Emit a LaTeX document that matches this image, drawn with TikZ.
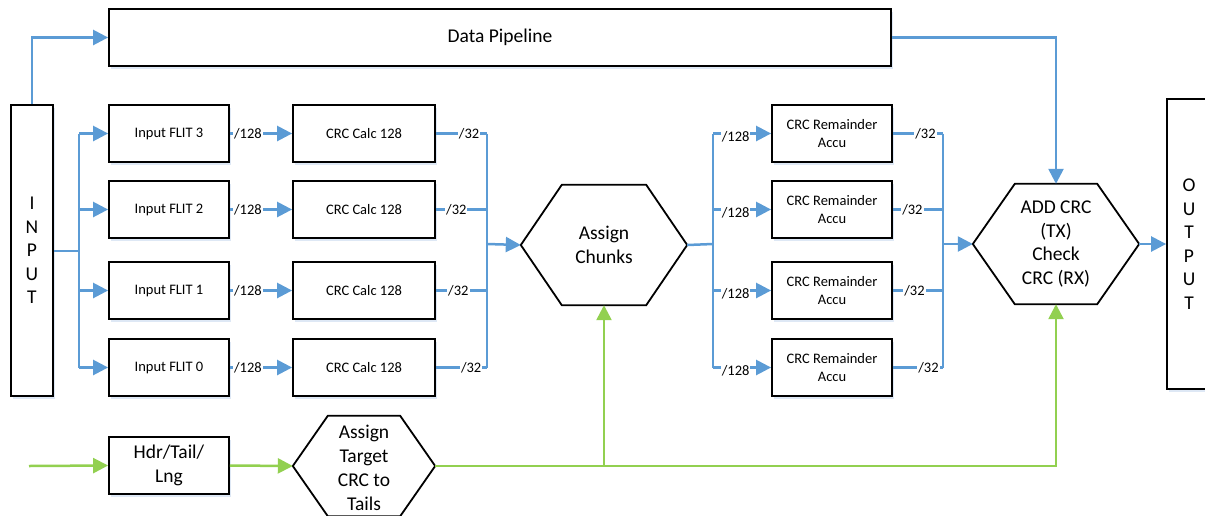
\documentclass[tikz,border=0pt]{standalone}
\usepackage{fontspec}
\setmainfont{Carlito}
\usetikzlibrary{arrows.meta,shadows,calc}
\definecolor{lblue}{RGB}{91,155,213}
\definecolor{lgreen}{RGB}{146,208,80}
\definecolor{shad}{RGB}{190,210,235}
\tikzset{
  box/.style={draw=black, line width=1.8pt, fill=white, inner sep=0pt, align=center,
    font=\fontsize{14.5}{17.5}\selectfont,
    drop shadow={shadow xshift=1.5pt, shadow yshift=-2.5pt, opacity=0.5, fill=shad}},
  bigbox/.style={box, font=\fontsize{19.5}{23.5}\selectfont},
  hexnode/.style={draw=none, inner sep=0pt, align=center, font=\fontsize{19.5}{23.5}\selectfont},
  hexline/.style={draw=black, line width=1.8pt, fill=white, line join=miter},
  hexshadow/.style={fill=shad, opacity=0.5},
  bl/.style={draw=lblue, line width=2.5pt},
  gr/.style={draw=lgreen, line width=2.5pt},
  tip/.style={-{Triangle[length=15pt,width=15pt]}},
  lbl/.style={fill=white, inner sep=1pt, font=\fontsize{14.5}{17}\selectfont, text=black},
}
\newcommand{\hexdraw}[2]{%
  \fill[hexshadow, xshift=1.5pt, yshift=-2.5pt] (#1.west) -- ([xshift=#2]#1.north west) -- ([xshift=-#2]#1.north east) -- (#1.east) -- ([xshift=-#2]#1.south east) -- ([xshift=#2]#1.south west) -- cycle;
  \path[hexline] (#1.west) -- ([xshift=#2]#1.north west) -- ([xshift=-#2]#1.north east) -- (#1.east) -- ([xshift=-#2]#1.south east) -- ([xshift=#2]#1.south west) -- cycle;
}
\begin{document}
\begin{tikzpicture}[x=1pt,y=-1pt]
\useasboundingbox (0,0) rectangle (1205,515);

% main boxes
\node[bigbox, minimum width=782pt, minimum height=57pt] (dp) at (500,37.5) {Data Pipeline};
\node[bigbox, minimum width=42pt, minimum height=291pt] (inp) at (32,250.5) {I\\N\\P\\U\\T};
\node[bigbox, minimum width=44pt, minimum height=290pt] (out) at (1189,244) {O\\U\\T\\P\\U\\T};

\foreach \k/\y in {3/133.5, 2/209.5, 1/290.5, 0/367.5}{
  \node[box, minimum width=120pt, minimum height=57pt] (f\k) at (169,\y) {Input FLIT \k};
  \node[box, minimum width=142pt, minimum height=57pt] (c\k) at (364,\y) {CRC Calc 128};
  \node[box, minimum width=120pt, minimum height=57pt] (r\k) at (832,\y) {CRC Remainder\\Accu};
}
\node[bigbox, minimum width=120pt, minimum height=57pt] (hdr) at (169,465.5) {Hdr/Tail/\\Lng};

% hexagons
\node[hexnode, minimum width=166pt, minimum height=120pt] (ch) at (604,245) {};
\hexdraw{ch}{41pt}
\node[hexnode] at (ch.center) {Assign\\Chunks};
\node[hexnode, minimum width=166pt, minimum height=120pt] (add) at (1056,244) {};
\hexdraw{add}{42pt}
\node[hexnode] at (add.center) {ADD CRC\\(TX)\\Check\\CRC (RX)};
\node[hexnode, minimum width=142pt, minimum height=100pt] (tgt) at (364,466) {};
\hexdraw{tgt}{35pt}
\node[hexnode, font=\fontsize{19.5}{24}\selectfont] at ([yshift=-1.5pt]tgt.center) {Assign\\Target\\CRC to\\Tails};

% coordinates
\coordinate (ib) at (79,251);
\coordinate (cb) at (487,244);
\coordinate (rb) at (713,244);
\coordinate (ob) at (943,244);
\coordinate (gs) at (29,466);

% blue connectors
\draw[bl, tip] (inp.north) |- (dp.west);
\draw[bl] (inp.east |- ib) -- (ib);
\draw[bl] (ib |- f3.west) -- (ib |- f0.west);
\foreach \k in {3,2,1,0}{
  \draw[bl, tip] (ib |- f\k.west) -- (f\k.west);
  \draw[bl, tip] (f\k.east) -- node[lbl, pos=0.29]{/128} (c\k.west);
}
\draw[bl] (c3.east) -- node[lbl, pos=0.65]{/32} (c3.east -| cb);
\draw[bl] (c2.east) -- node[lbl, pos=0.40]{/32} (c2.east -| cb);
\draw[bl] (c1.east) -- node[lbl, pos=0.44]{/32} (c1.east -| cb);
\draw[bl] (c0.east) -- node[lbl, pos=0.69]{/32} (c0.east -| cb);
\draw[bl] (c3.east -| cb) -- (c0.east -| cb);
\draw[bl, tip] (cb) -- (ch.west);

\draw[bl] (ch.east) -- (rb);
\draw[bl] (rb |- r3.west) -- (rb |- r0.west);
\foreach \k in {3,2,1,0}{
  \draw[bl, tip] (rb |- r\k.west) -- node[lbl, pos=0.39, yshift=-3pt]{/128} (r\k.west);
}
\draw[bl] (r3.east) -- node[lbl, pos=0.65]{/32} (r3.east -| ob);
\draw[bl] (r2.east) -- node[lbl, pos=0.39]{/32} (r2.east -| ob);
\draw[bl] (r1.east) -- node[lbl, pos=0.43]{/32} (r1.east -| ob);
\draw[bl] (r0.east) -- node[lbl, pos=0.71]{/32} (r0.east -| ob);
\draw[bl] (r3.east -| ob) -- (r0.east -| ob);
\draw[bl, tip] (ob) -- (add.west);

\draw[bl, tip] (dp.east) -| (add.north);
\draw[bl, tip] (add.east) -- (out.west);

% green connectors
\draw[gr, tip] (gs) -- (hdr.west);
\draw[gr, tip] (hdr.east) -- (tgt.west);
\draw[gr, tip] (tgt.east) -| (add.south);
\draw[gr, tip] (ch.south |- tgt.east) -- (ch.south);
\end{tikzpicture}
\end{document}
